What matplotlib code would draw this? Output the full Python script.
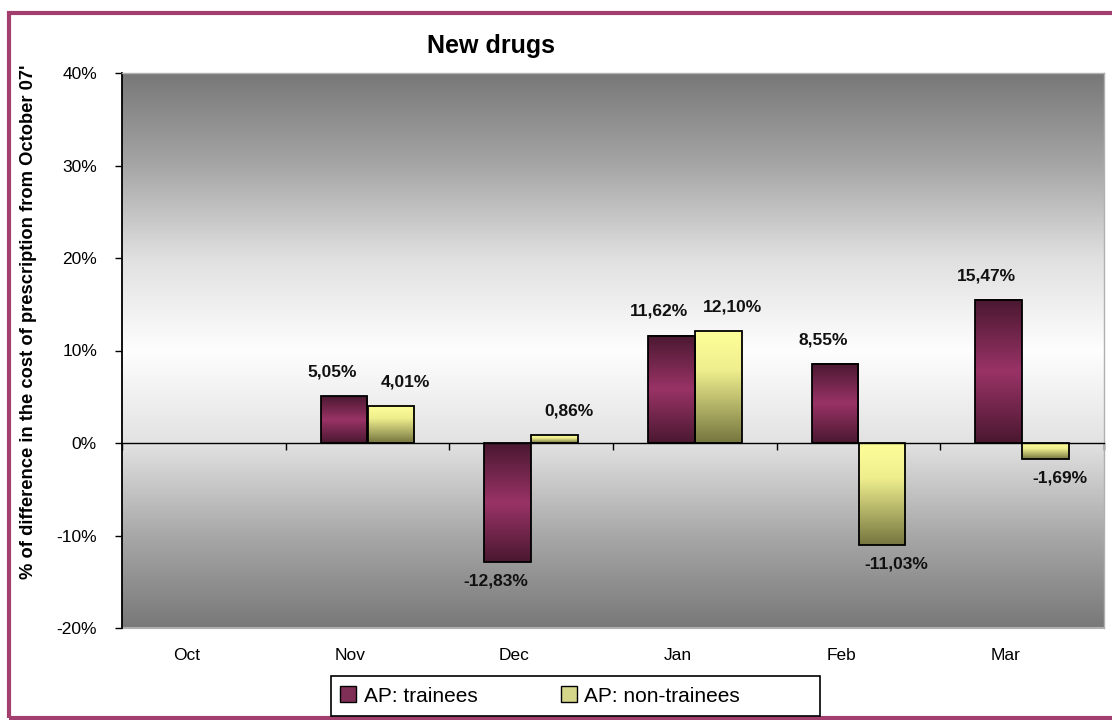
import numpy as np
import matplotlib
matplotlib.use("Agg")
import matplotlib.pyplot as plt
from matplotlib.colors import LinearSegmentedColormap
from matplotlib.patches import Rectangle, Patch
from matplotlib import transforms

months = ["Oct", "Nov", "Dec", "Jan", "Feb", "Mar"]
trainees = [np.nan, 5.05, -12.83, 11.62, 8.55, 15.47]
non_trainees = [np.nan, 4.01, 0.86, 12.10, -11.03, -1.69]
series_names = ["AP: trainees", "AP: non-trainees"]
y_ticks = [-20, -10, 0, 10, 20, 30, 40]

plt.rcParams['font.family'] = ['Liberation Sans', 'DejaVu Sans']

W, H = 1112, 720
fig = plt.figure(figsize=(W / 100, H / 100), dpi=100)
ax = fig.add_axes([122 / W, 1 - 628 / H, (1104 - 122) / W, (628 - 73) / H])

# background gradient (style)
bg_anchor_y = [-20, -10, 0, 10, 20, 30, 40]
bg_anchor_v = [0x78, 0xa8, 0xe2, 0xfe, 0xe0, 0xa6, 0x78]
yy = np.linspace(40, -20, 400)
vals = np.interp(yy, bg_anchor_y, bg_anchor_v) / 255.0
bg = np.repeat(vals[:, None], 2, axis=1)
ax.imshow(np.dstack([bg, bg, bg]), extent=(-0.5, 5.5, -20, 40), aspect='auto',
          origin='upper', zorder=0, interpolation='bilinear')

x = np.arange(len(months))
bw = 0.287
cm_tr = LinearSegmentedColormap.from_list('tr', [(0, '#4a1830'), (0.5, '#993366'), (1, '#4a1830')])
cm_nt = LinearSegmentedColormap.from_list('nt', [(0, '#ffff99'), (0.35, '#eeee8e'), (1, '#75753f')])
grad = np.linspace(0, 1, 256)[:, None]

label_dx = [-12, 14]
for k, (vals_s, cm) in enumerate([(trainees, cm_tr), (non_trainees, cm_nt)]):
    offs = (k - 0.5) * bw
    bars = ax.bar(x + offs, np.nan_to_num(vals_s), width=bw, facecolor='none',
                  edgecolor='black', linewidth=1.3, zorder=3)
    for b, v in zip(bars, vals_s):
        if np.isnan(v):
            b.set_visible(False)
            continue
        x0 = b.get_x(); x1 = x0 + b.get_width()
        y0 = b.get_y(); y1 = y0 + b.get_height()
        ax.imshow(np.repeat(grad, 2, axis=1), cmap=cm, extent=(x0, x1, min(y0, y1), max(y0, y1)),
                  aspect='auto', origin='upper', zorder=2, interpolation='bilinear')
        dy = 17.3 if v >= 0 else -13.7
        ax.annotate(f"{v:.2f}%".replace('.', ','), (b.get_x() + b.get_width() / 2, v),
                    xytext=(label_dx[k] * 0.72, dy), textcoords='offset points',
                    ha='center', va='center', fontsize=12.5, fontweight='bold', color='#111111',
                    zorder=5)

ax.set_xlim(-0.5, 5.5)
ax.set_ylim(-20, 40)

ax.spines['bottom'].set_position(('data', 0))
ax.spines['bottom'].set_color('black')
ax.spines['bottom'].set_linewidth(1.0)
ax.spines['left'].set_color('black')
ax.spines['left'].set_linewidth(1.3)
for s in ['top', 'right']:
    ax.spines[s].set_color('#b0b0b0')
    ax.spines[s].set_linewidth(1.0)
ax.axhline(-20, color='#b0b0b0', lw=1.5, zorder=1, clip_on=False)

ax.set_xticks(np.arange(len(months) + 1) - 0.5)
ax.set_xticklabels([])
ax.tick_params(axis='x', direction='out', length=5, width=1, color='black')
ax.set_yticks(y_ticks)
ax.set_yticklabels([f"{t}%" for t in y_ticks], fontsize=12.5)
ax.tick_params(axis='y', direction='out', length=5, width=1, pad=13, color='black')

trans = transforms.offset_copy(transforms.blended_transform_factory(ax.transData, ax.transAxes),
                               fig=fig, x=-12.2, y=-1.5, units='points')
for i, m in enumerate(months):
    ax.text(i, -0.045, m, transform=trans, ha='center', va='center', fontsize=12.5)

fig.text(491 / W, 1 - 46 / H, "New drugs", ha='center', va='center', fontsize=18, fontweight='bold')
fig.text(29 / W, 1 - 322 / H, "% of difference in the cost of prescription from October 07'",
         rotation=90, ha='center', va='center', fontsize=13.2, fontweight='bold')

# legend
handles = [Patch(facecolor='#7f2f55', edgecolor='black'), Patch(facecolor='#d6d68a', edgecolor='black')]
fig.patches.append(Rectangle((331 / W, 1 - 716 / H), (820 - 331) / W, 40 / H, transform=fig.transFigure,
                             facecolor='white', edgecolor='black', linewidth=1.2, zorder=1))
fig.legend(handles, series_names, loc='center left', bbox_to_anchor=(336 / W, 1 - 696 / H),
           ncol=2, frameon=False, fontsize=15, handlelength=0.77, handleheight=0.77,
           handletextpad=0.35, columnspacing=4.0, borderpad=0.2, borderaxespad=0)

# outer border
fig.patches.append(Rectangle((9 / W, 1 - 718 / H), 1.2, (718 - 13) / H, transform=fig.transFigure,
                             facecolor='none', edgecolor='#a23f6e', linewidth=3, zorder=0))

fig.savefig("out.png", dpi=100)
